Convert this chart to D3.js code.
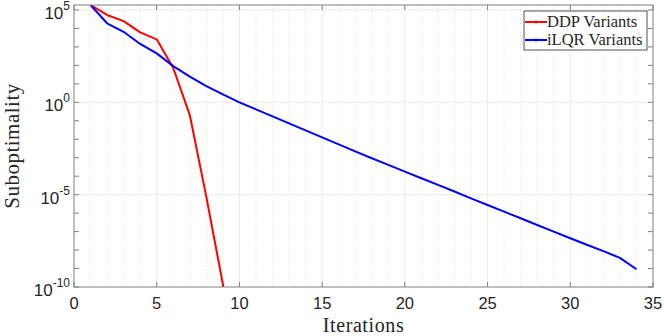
<!DOCTYPE html>
<html>
<head>
<meta charset="utf-8">
<script src="https://cdn.jsdelivr.net/npm/d3@7"></script>
<style>
body { margin: 0; background: #fff; }
#graph { width: 664px; height: 336px; }
text { fill: #262626; }
</style>
</head>
<body>
<div id="graph"></div>
<script>
// iterations and log10(suboptimality)
var ddpIter = [1, 2, 3, 4, 5, 6, 7, 8, 9, 10]
var ddpLog = [5.27, 4.73, 4.40, 3.79, 3.41, 1.86, -0.69, -5.12, -9.85, -16]
var ilqrIter = d3.range(1, 35)
var ilqrLog = [5.27, 4.28, 3.82, 3.16, 2.65, 1.96, 1.39, 0.88, 0.43, 0.00,
	-0.38, -0.76, -1.14, -1.52, -1.90, -2.28, -2.66, -3.03, -3.39, -3.75,
	-4.11, -4.47, -4.83, -5.20, -5.56, -5.92, -6.28, -6.64, -7.00, -7.36,
	-7.71, -8.06, -8.42, -9.04]
var xTicks = [0, 5, 10, 15, 20, 25, 30, 35]
var yTicks = [-10, -5, 0, 5]
var seriesNames = ["DDP Variants", "iLQR Variants"]
var seriesColors = ["#ff0000", "#0000ff"]

var width = 664, height = 336
var margin = {top: 5, left: 74, right: 11, bottom: 49}
var chartWidth = width - margin.left - margin.right
var chartHeight = height - margin.top - margin.bottom

var svg = d3.select("#graph").append("svg").attr("width", width).attr("height", height)
var chart = svg.append("g").attr("transform", "translate(" + [margin.left, margin.top] + ")")

var x = d3.scaleLinear().domain([0, 35]).range([0, chartWidth])
var y = d3.scaleLog().domain([1e-10, Math.pow(10, 5.27)]).range([chartHeight, 0])

svg.append("defs").append("clipPath").attr("id", "clip")
	.append("rect").attr("width", chartWidth).attr("height", chartHeight)

// grid
var grid = chart.append("g")
grid.selectAll("line.minor").data(d3.range(1, 35).filter(function(d){ return d % 5 != 0 }))
	.enter().append("line").attr("class", "minor")
	.attr("x1", x).attr("x2", x).attr("y1", 0).attr("y2", chartHeight)
	.attr("stroke", "#e0e0e0").attr("stroke-dasharray", "1,2").attr("stroke-width", 1)
grid.selectAll("line.vmajor").data(xTicks.slice(1, -1))
	.enter().append("line").attr("class", "vmajor")
	.attr("x1", x).attr("x2", x).attr("y1", 0).attr("y2", chartHeight)
	.attr("stroke", "#ebebeb").attr("stroke-width", 1)
grid.selectAll("line.hmajor").data(yTicks.slice(1, -1).concat([5]))
	.enter().append("line").attr("class", "hmajor")
	.attr("y1", function(d){ return y(Math.pow(10, d)) }).attr("y2", function(d){ return y(Math.pow(10, d)) })
	.attr("x1", 0).attr("x2", chartWidth)
	.attr("stroke", "#ebebeb").attr("stroke-width", 1)

// lines
var line = d3.line()
	.x(function(d){ return x(d[0]) })
	.y(function(d){ return y(Math.pow(10, d[1])) })
var series = [d3.zip(ddpIter, ddpLog), d3.zip(ilqrIter, ilqrLog)]
chart.append("g").attr("clip-path", "url(#clip)")
	.selectAll("path").data(series).enter().append("path")
	.attr("d", line).attr("fill", "none")
	.attr("stroke", function(d, i){ return seriesColors[i] })
	.attr("stroke-width", 2).attr("stroke-linejoin", "round")

// box and inward ticks
var axisColor = "#808080"
chart.append("rect").attr("width", chartWidth).attr("height", chartHeight)
	.attr("fill", "none").attr("stroke", axisColor).attr("stroke-width", 1)
var ticks = chart.append("g").attr("stroke", axisColor)
xTicks.forEach(function(t){
	ticks.append("line").attr("x1", x(t)).attr("x2", x(t)).attr("y1", chartHeight).attr("y2", chartHeight - 5)
	ticks.append("line").attr("x1", x(t)).attr("x2", x(t)).attr("y1", 0).attr("y2", 5)
})
d3.range(-10, 6).forEach(function(e){
	var yy = y(Math.pow(10, e))
	ticks.append("line").attr("x1", 0).attr("x2", 5).attr("y1", yy).attr("y2", yy)
	ticks.append("line").attr("x1", chartWidth).attr("x2", chartWidth - 5).attr("y1", yy).attr("y2", yy)
})

// tick labels
chart.append("g").selectAll("text").data(xTicks).enter().append("text")
	.attr("x", x).attr("y", chartHeight + 22)
	.attr("text-anchor", "middle")
	.style("font", "16.5px 'Liberation Sans', Arial, sans-serif")
	.text(function(d){ return d })
var yl = chart.append("g").selectAll("text").data(yTicks).enter().append("text")
	.attr("x", -4).attr("y", function(d){ return y(Math.pow(10, d)) + 9 })
	.attr("text-anchor", "end")
	.style("font", "17px 'Liberation Sans', Arial, sans-serif")
yl.append("tspan").text("10")
yl.append("tspan").attr("dy", -9).style("font-size", "12px").text(function(d){ return d })

// axis titles
svg.append("text").attr("x", margin.left + chartWidth / 2).attr("y", 332)
	.attr("text-anchor", "middle")
	.style("font", "20px 'Liberation Serif', 'Times New Roman', serif")
	.style("letter-spacing", "0.6px")
	.text("Iterations")
svg.append("text").attr("transform", "translate(19," + (margin.top + chartHeight / 2) + ") rotate(-90)")
	.attr("text-anchor", "middle")
	.style("font", "21px 'Liberation Serif', 'Times New Roman', serif")
	.style("letter-spacing", "0.5px")
	.text("Suboptimality")

// legend
var lg = svg.append("g").attr("transform", "translate(524,11)")
lg.append("rect").attr("width", 123).attr("height", 39)
	.attr("fill", "#fff").attr("stroke", "#262626").attr("stroke-width", 0.8)
seriesNames.forEach(function(name, i){
	var ly = 11 + i * 18
	lg.append("line").attr("x1", 1).attr("x2", 23).attr("y1", ly).attr("y2", ly)
		.attr("stroke", seriesColors[i]).attr("stroke-width", 2)
	lg.append("circle").attr("cx", 12).attr("cy", ly).attr("r", 1.5).attr("fill", seriesColors[i])
	lg.append("text").attr("x", 23).attr("y", ly + 5)
		.style("font", "16.5px 'Liberation Serif', 'Times New Roman', serif")
		.text(name)
})
</script>
</body>
</html>
